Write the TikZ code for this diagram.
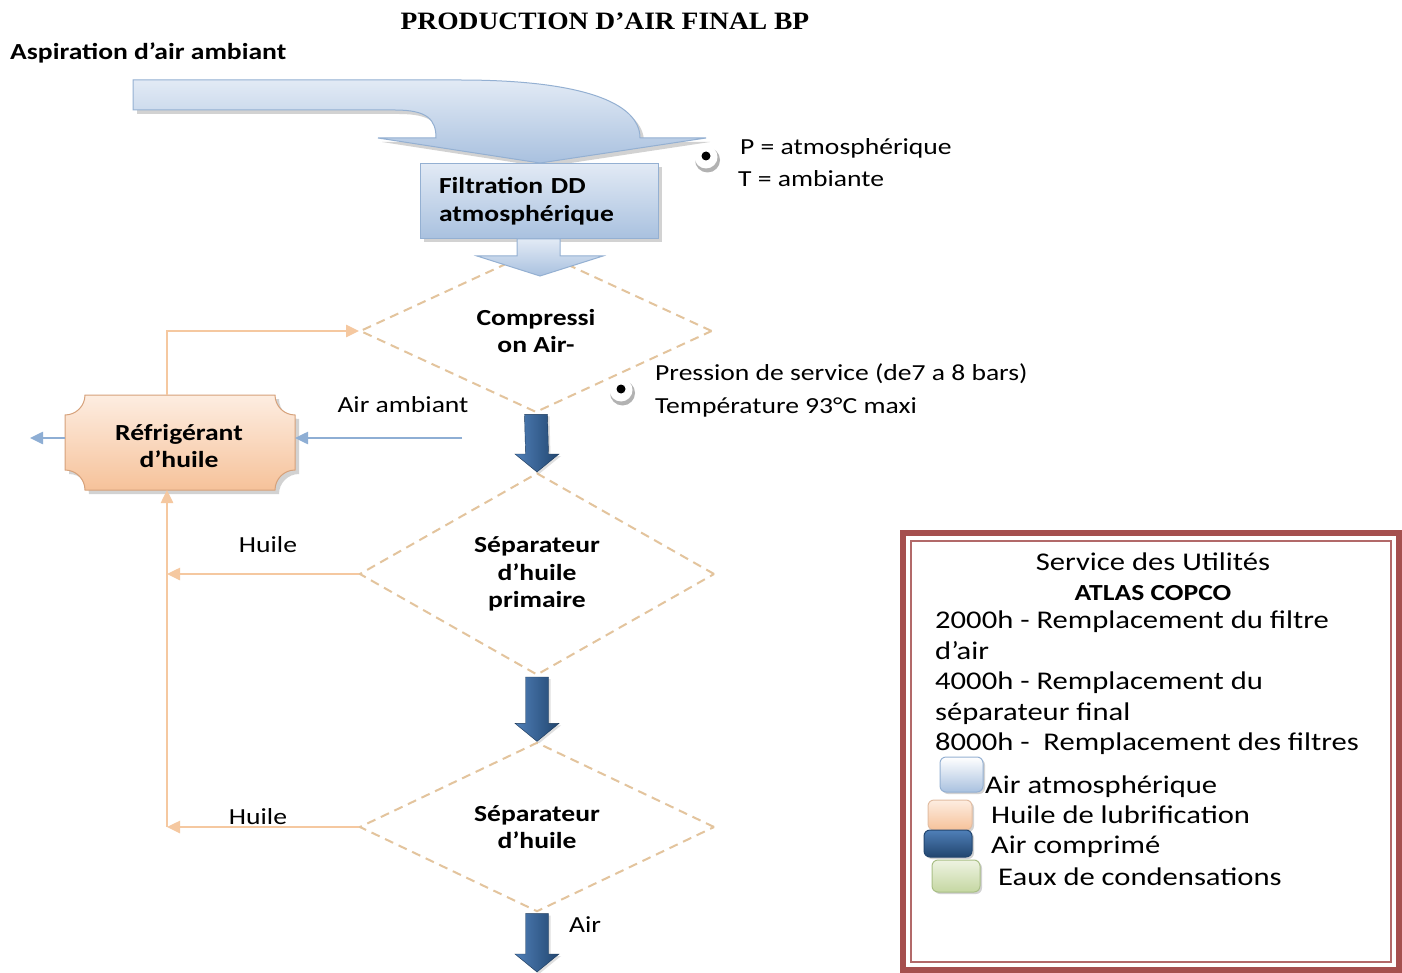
\documentclass[tikz,border=0pt]{standalone}
\usepackage{fontspec}
\setmainfont{Carlito}[FakeStretch=1.2]
\newfontfamily\titlefont{Liberation Serif}[FakeStretch=1.1]
\usetikzlibrary{shapes.geometric,arrows.meta,calc,shadows}

\definecolor{airlight}{HTML}{E2EAF5}
\definecolor{airmid}{HTML}{A9C1DF}
\definecolor{airedge}{HTML}{94B0D2}
\definecolor{airline}{HTML}{8EAED4}
\definecolor{airleft}{HTML}{4F7FB8}
\definecolor{airright}{HTML}{22466F}
\definecolor{oilline}{HTML}{F5C8A0}
\definecolor{oiltop}{HTML}{FDEDE1}
\definecolor{oilbot}{HTML}{F6C29A}
\definecolor{oiledge}{HTML}{D6A17A}
\definecolor{sepdash}{HTML}{E3C49D}
\definecolor{framecol}{HTML}{A54F4E}
\definecolor{greentop}{HTML}{EEF3E2}
\definecolor{greenbot}{HTML}{C5D7A2}
\definecolor{greenedge}{HTML}{A9BF86}

\newcommand{\flowarrow}[2]{%
  \path[flow] ($(#1)+(-11.5,1)$) -- ($(#2)+(-11.5,-18)$) -- ($(#2)+(-22,-18)$)
    -- (#2) -- ($(#2)+(22,-18)$) -- ($(#2)+(11.5,-18)$) -- ($(#1)+(11.5,1)$) -- cycle;}

\tikzset{
  txt/.style={font=\fontsize{23}{27.5}\selectfont, inner sep=0pt},
  btxt/.style={font=\fontsize{23}{27.5}\selectfont\bfseries, inner sep=0pt},
  leg/.style={font=\fontsize{25.5}{30}\selectfont, inner sep=0pt, anchor=base west},
  stage/.style={diamond, draw=sepdash, dash pattern=on 9pt off 6pt, line width=2pt,
    inner sep=0pt, align=center, font=\fontsize{23}{27.5}\selectfont\bfseries},
  oilarrow/.style={draw=oilline, line width=2.5pt, -{Triangle[length=13pt,width=12pt]}},
  airarrow/.style={draw=airline, line width=2.5pt, -{Triangle[length=13pt,width=12pt]}},
  flow/.style={left color=airleft, right color=airright, draw=airright!80!black, line width=0.4pt,
    drop shadow={shadow xshift=2pt, shadow yshift=-2pt, opacity=0.25}},
  lightflow/.style={top color=airlight, bottom color=airmid, draw=airedge, line width=1pt},
  softshadow/.style={drop shadow={shadow xshift=4pt, shadow yshift=-4pt, opacity=0.35}},
  swatch/.style={rounded corners=6pt, line width=1pt,
    drop shadow={shadow xshift=2pt, shadow yshift=-2pt, opacity=0.35}},
}

\begin{document}
\begin{tikzpicture}[x=1pt, y=-1pt]
  \useasboundingbox (0,0) rectangle (1402,973);
  \fill[white] (0,0) rectangle (1402,973);

  % title and intake label
  \node[font=\titlefont\bfseries\fontsize{25}{30}\selectfont, inner sep=0pt, anchor=base] (title) at (605,30) {PRODUCTION D’AIR FINAL BP};
  \node[btxt, anchor=base west] (asp) at (10,60) {Aspiration d’air ambiant};

  % intake band bending down into the filter
  \path[lightflow, softshadow] (133,80) -- (460,80)
    .. controls (580,80) and (640,102) .. (640,138)
    -- (706,138) -- (540,163) -- (378,138) -- (436,138)
    .. controls (436,120) and (428,110) .. (395,110) -- (133,110) -- cycle;

  % filter box
  \node[btxt, align=left, text width=200pt, minimum width=238pt, minimum height=75pt,
        top color=airlight, bottom color=airmid, draw=airedge, line width=1pt,
        softshadow] (filt) at (539,201) {Filtration DD\\atmosphérique};

  % process stages
  \node[stage, minimum width=352pt, minimum height=138pt] (d1) at (536,331) {Compressi\\on Air-};
  \node[stage, minimum width=355pt, minimum height=202pt] (d2) at (537,574) {Séparateur\\d’huile\\primaire};
  \node[stage, minimum width=355pt, minimum height=155pt] (d3) at (537,827) {Séparateur\\d’huile};

  % filter to compressor
  \path[lightflow] ($(filt.south)+(-22,0)$) -- ($(filt.south)+(-22,17)$) -- ($(filt.south)+(-62,17)$)
    -- ($(filt.south)+(1,37)$) -- ($(filt.south)+(64,17)$) -- ($(filt.south)+(21,17)$)
    -- ($(filt.south)+(21,0)$) -- cycle;

  % compressed air flow
  \coordinate (out) at (537,972);
  \flowarrow{d1.south}{d2.north}
  \flowarrow{d2.south}{d3.north}
  \flowarrow{d3.south}{out}
  \node[txt, anchor=base] (airout) at (585,932) {Air};

  % oil cooler
  \path[top color=oiltop, bottom color=oilbot, draw=oiledge, line width=1pt, softshadow]
    (85,395) -- (275,395)
    .. controls (275,406) and (284,415) .. (295,415) -- (295,470)
    .. controls (284,470) and (275,479) .. (275,490) -- (85,490)
    .. controls (85,479) and (76,470) .. (65,470) -- (65,415)
    .. controls (76,415) and (85,406) .. (85,395) -- cycle;
  \node[btxt, align=center, minimum width=230pt, minimum height=95pt] (refrig) at (179,446)
    {Réfrigérant\\d’huile};

  % oil circuit
  \coordinate (vx) at (167,827);
  \coordinate (cooltop) at (167,395);
  \coordinate (coolbot) at (167,490);
  \draw[oilarrow] (cooltop) |- (d1.west);
  \draw[oilarrow] (d2.west) -- (d2.west -| vx);
  \draw[oilarrow] (d3.west) -- (vx);
  \draw[oilarrow] (vx) -- (coolbot);
  \node[txt, anchor=base] (huile1) at (268,552) {Huile};
  \node[txt, anchor=base] (huile2) at (258,824) {Huile};

  % cooling air
  \coordinate (ambin) at (462,438);
  \coordinate (ambout) at (30,438);
  \coordinate (coolright) at (295,438);
  \coordinate (coolleft) at (65,438);
  \draw[airarrow] (ambin) -- (coolright);
  \draw[airarrow] (coolleft) -- (ambout);
  \node[txt, anchor=base] (amb) at (403,412) {Air ambiant};

  % condition markers
  \foreach \cx/\cy in {706/157, 621/390}{
    \fill[black!30] (\cx+1.5,\cy+3) circle (12.5pt);
    \fill[white] (\cx,\cy) circle (11.5pt);
    \fill[black] (\cx,\cy-1) circle (4.5pt);
  }
  \node[txt, anchor=base west] (p1) at (740,155) {P = atmosphérique};
  \node[txt, anchor=base west] (t1) at (738,187) {T = ambiante};
  \node[txt, anchor=base west] (p2) at (655,381) {Pression de service (de7 a 8 bars)};
  \node[txt, anchor=base west] (t2) at (655,413) {Température 93°C maxi};

  % maintenance legend
  \draw[framecol, line width=6pt] (903,533) rectangle (1399,970);
  \draw[framecol!85, line width=1.5pt] (911,541) rectangle (1391,962);
  \node[leg, anchor=base] (ls) at (1153,570) {Service des Utilités};
  \node[leg, anchor=base, font=\fontsize{23}{28}\selectfont\bfseries] (la) at (1153,600) {ATLAS COPCO};
  \node[leg] (l1) at (935,628) {2000h - Remplacement du filtre};
  \node[leg] (l2) at (935,659) {d’air};
  \node[leg] (l3) at (935,689) {4000h - Remplacement du};
  \node[leg] (l4) at (935,720) {séparateur final};
  \node[leg] (l5) at (935,750) {8000h -\ \ Remplacement des filtres};

  \path[swatch, top color=white, bottom color=airmid, draw=airedge] (940,757) rectangle (983,792);
  \path[swatch, top color=oiltop, bottom color=oilbot, draw=oiledge!70] (928,800) rectangle (972,830);
  \path[swatch, top color=airleft, bottom color=airright, draw=airright] (924,830) rectangle (972,857);
  \path[swatch, top color=greentop, bottom color=greenbot, draw=greenedge] (932,860) rectangle (980,892);
  \node[leg] (k1) at (985,793) {Air atmosphérique};
  \node[leg] (k2) at (991,823) {Huile de lubrification};
  \node[leg] (k3) at (991,853) {Air comprimé};
  \node[leg] (k4) at (998,885) {Eaux de condensations};
\end{tikzpicture}
\end{document}
